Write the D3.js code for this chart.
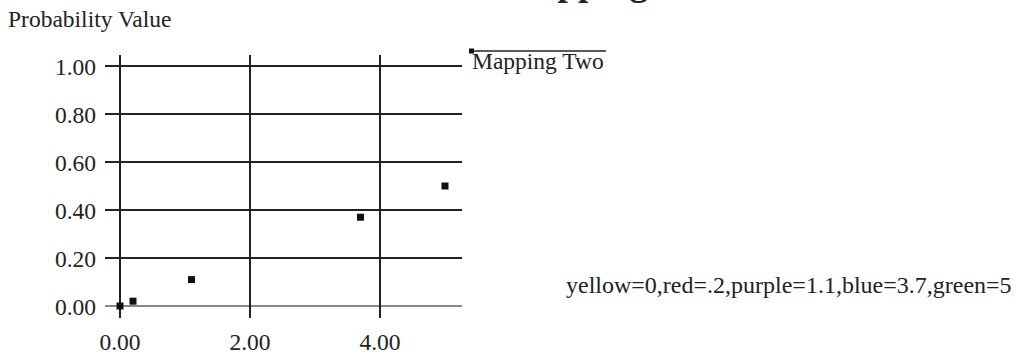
<!DOCTYPE html>
<html>
<head>
<meta charset="utf-8">
<script src="https://cdn.jsdelivr.net/npm/d3@7"></script>
<style>
  html, body { margin: 0; padding: 0; background: #fff; }
  svg { display: block; }
  text { font-family: "Liberation Serif", "Times New Roman", serif; fill: #222; }
</style>
</head>
<body>
<svg id="chart" width="1016" height="356"></svg>
<script>
// ---- data ----
const title = "Mapping Two";
const yAxisTitle = "Probability Value";
const seriesName = "Mapping Two";
const note = "yellow=0,red=.2,purple=1.1,blue=3.7,green=5";
const xValues = [0, 0.2, 1.1, 3.7, 5];
const yValues = [0, 0.02, 0.11, 0.37, 0.5];
const xTicks = [0, 2, 4];
const yTicks = [0, 0.2, 0.4, 0.6, 0.8, 1.0];

// ---- layout ----
const svg = d3.select("#chart");
const x = d3.scaleLinear().domain([0, 4]).range([120, 380]);
const y = d3.scaleLinear().domain([0, 1]).range([306, 66]);
const plotLeft = 105, plotRight = 462, plotTop = 55, plotBottom = 318;
const fmt = d3.format(".2f");
const fs = 23.5;

// title (clipped at top)
svg.append("text")
  .attr("x", 504).attr("y", -5)
  .attr("font-size", 37).attr("font-weight", "bold")
  .text(title);

// y axis title
svg.append("text")
  .attr("x", 8).attr("y", 27)
  .attr("font-size", fs)
  .text(yAxisTitle);

// horizontal grid lines
svg.append("g").selectAll("line").data(yTicks).join("line")
  .attr("x1", plotLeft).attr("x2", plotRight)
  .attr("y1", d => y(d)).attr("y2", d => y(d))
  .attr("stroke", d => d === 0 ? "#888" : "#222")
  .attr("stroke-width", d => d === 0 ? 2 : 1.2)
  .attr("shape-rendering", "crispEdges");

// vertical grid lines
svg.append("g").selectAll("line").data(xTicks).join("line")
  .attr("x1", d => x(d)).attr("x2", d => x(d))
  .attr("y1", plotTop).attr("y2", plotBottom)
  .attr("stroke", "#222").attr("stroke-width", 1.2)
  .attr("shape-rendering", "crispEdges");

// y tick labels
svg.append("g").selectAll("text").data(yTicks).join("text")
  .attr("x", 96).attr("y", d => y(d) + 8.5)
  .attr("text-anchor", "end").attr("font-size", fs)
  .text(d => fmt(d));

// x tick labels
svg.append("g").selectAll("text").data(xTicks).join("text")
  .attr("x", d => x(d)).attr("y", 350)
  .attr("text-anchor", "middle").attr("font-size", fs)
  .text(d => fmt(d));

// points
const pts = xValues.map((v, i) => ({ x: v, y: yValues[i] }));
svg.append("g").selectAll("rect").data(pts).join("rect")
  .attr("x", d => x(d.x) - 3.5).attr("y", d => y(d.y) - 3.5)
  .attr("width", 7).attr("height", 7)
  .attr("fill", "#111");

// legend
svg.append("line")
  .attr("x1", 470).attr("x2", 606).attr("y1", 51).attr("y2", 51)
  .attr("stroke", "#222").attr("stroke-width", 1.5);
svg.append("rect")
  .attr("x", 469).attr("y", 48.5).attr("width", 5).attr("height", 5)
  .attr("fill", "#111");
svg.append("text")
  .attr("x", 472).attr("y", 69)
  .attr("font-size", fs)
  .text(seriesName);

// note
svg.append("text")
  .attr("x", 566).attr("y", 293)
  .attr("font-size", 24)
  .text(note);
</script>
</body>
</html>
